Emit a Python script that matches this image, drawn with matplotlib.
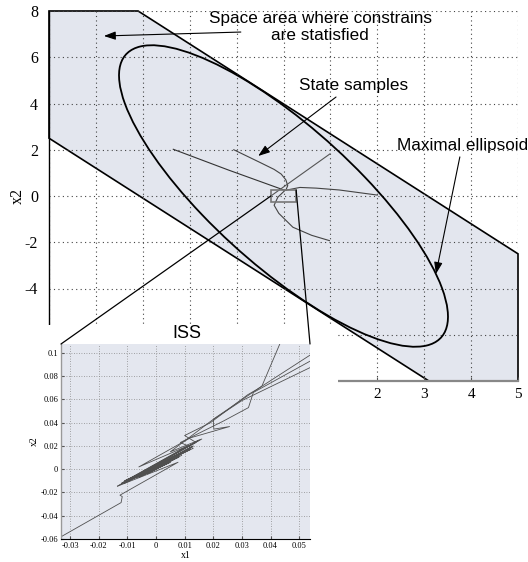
import matplotlib.pyplot as plt
import numpy as np
from matplotlib.patches import Polygon, Ellipse, Rectangle, ConnectionPatch

plt.rcParams['font.family'] = 'serif'
plt.rcParams['font.serif'] = ['Liberation Serif', 'DejaVu Serif']
SANS = ['Liberation Sans', 'DejaVu Sans']

# region where the constraints hold (x1, x2)
region_x = [-5, -3.1, 5, 5, 3.1, -5]
region_y = [8, 8, -2.5, -8, -8, 2.5]

# maximal ellipsoid  x' inv(Q) x <= 1
ellipse_Q = [[12.3, -18.3], [-18.3, 42.5]]

# state samples in the big plot
s1_x = [-2.35, -1.17, 0.02]
s1_y = [2.02, 1.12, 0.25]
s2_x = [-1.06, -0.5, -0.2, -0.05, 0.05, 0.09, 0.05]
s2_y = [2.0, 1.45, 1.15, 0.95, 0.7, 0.45, 0.25]
s3_x = [2.0, 1.19, 0.7, 0.35, 0.05]
s3_y = [0.04, 0.26, 0.34, 0.37, 0.25]
s4_x = [0.98, 0.6, 0.2, -0.1, -0.2, -0.12, 0.02]
s4_y = [-1.93, -1.7, -1.35, -0.75, -0.4, -0.05, 0.22]
s5_x = [0.99, -0.27]
s5_y = [1.82, 0.0]

# zoom box
box_x = [-0.27, 0.27]
box_y = [-0.26, 0.26]

# ISS zoom trajectories
t1_x = [0.0445, 0.0370, 0.0200, 0.0202, 0.0257, 0.0120, -0.0060, 0.0110, -0.0100, 0.0060, -0.0050, 0.0030, 0.0]
t1_y = [0.1150, 0.0715, 0.0430, 0.0345, 0.0367, 0.0270, 0.0020, 0.0200, -0.0090, 0.0110, -0.0045, 0.0040, 0.0]
t2_x = [0.0560, 0.0353, 0.0320, 0.0190, 0.0100, 0.0140, -0.0120, 0.0150, -0.0135, 0.0100, -0.0080, 0.0060, -0.0030, 0.0]
t2_y = [0.1016, 0.0687, 0.0640, 0.0400, 0.0290, 0.0230, -0.0120, 0.0250, -0.0146, 0.0150, -0.0080, 0.0080, -0.0040, 0.0]
t3_x = [0.0560, 0.0340, 0.0323, 0.0236, 0.0085, 0.0130, -0.0110, 0.0120, -0.0090, 0.0090, -0.0060, 0.0040, 0.0]
t3_y = [0.0959, 0.0660, 0.0530, 0.0415, 0.0230, 0.0180, -0.0100, 0.0170, -0.0095, 0.0120, -0.0070, 0.0050, 0.0]
t4_x = [0.0560, 0.0300, 0.0195, 0.0050, 0.0160, -0.0110, 0.0130, -0.0100, 0.0080, -0.0070, 0.0050, -0.0030, 0.0]
t4_y = [0.0900, 0.0590, 0.0420, 0.0150, 0.0260, -0.0110, 0.0200, -0.0105, 0.0105, -0.0075, 0.0060, -0.0035, 0.0]
t5_x = [-0.0360, -0.0122, -0.0118, -0.0126, 0.0077, -0.0135, 0.0155, -0.0110, 0.0120, -0.0090, 0.0080, -0.0060, 0.0040, -0.0020, 0.0]
t5_y = [-0.0620, -0.0287, -0.0235, -0.0223, 0.0060, -0.0146, 0.0255, -0.0120, 0.0180, -0.0090, 0.0110, -0.0060, 0.0060, -0.0025, 0.0]

main_xticks = list(range(-5, 6))
main_xlabels = ['', '', '', '', '', '', '', '2', '3', '4', '5']
main_yticks = list(range(-8, 9, 2))
main_ylabels = ['', '', '-4', '-2', '0', '2', '4', '6', '8']

iss_xticks = [-0.03, -0.02, -0.01, 0, 0.01, 0.02, 0.03, 0.04, 0.05]
iss_xlabels = ['-0.03', '-0.02', '-0.01', '0', '0.01', '0.02', '0.03', '0.04', '0.05']
iss_yticks = [-0.06, -0.04, -0.02, 0, 0.02, 0.04, 0.06, 0.08, 0.1]
iss_ylabels = ['-0.06', '-0.04', '-0.02', '0', '0.02', '0.04', '0.06', '0.08', '0.1']

W, H = 528, 562
fig = plt.figure(figsize=(W / 100, H / 100), dpi=100)

# ---- main plot ----
ax = fig.add_axes([49 / W, 181 / H, 469 / W, 370 / H], zorder=0)
ax.set_xlim(-5, 5)
ax.set_ylim(-8, 8)

ax.add_patch(Polygon(list(zip(region_x, region_y)), closed=True, fc='#e3e6ee',
                     ec='black', lw=1.2, zorder=1, clip_on=False))

Q = np.array(ellipse_Q)
vals, vecs = np.linalg.eigh(Q)
angle = np.degrees(np.arctan2(vecs[1, 1], vecs[0, 1]))
ax.add_patch(Ellipse((0, 0), 2 * np.sqrt(vals[1]), 2 * np.sqrt(vals[0]), angle=angle,
                     fc='none', ec='black', lw=1.3, zorder=3))

for xs, ys, c in [(s1_x, s1_y, '#333333'), (s2_x, s2_y, '#444444'), (s3_x, s3_y, '#444444'),
                  (s4_x, s4_y, '#444444'), (s5_x, s5_y, '#555555')]:
    ax.plot(xs, ys, color=c, lw=0.8, zorder=3)

ax.add_patch(Rectangle((box_x[0], box_y[0]), box_x[1] - box_x[0], box_y[1] - box_y[0],
                       fc='none', ec='#777777', lw=1.2, zorder=3))

ax.grid(True, ls=(0, (1, 3)), color='#444444', lw=0.8)
ax.set_xticks(main_xticks)
ax.set_xticklabels(main_xlabels)
ax.set_yticks(main_yticks)
ax.set_yticklabels(main_ylabels)
ax.tick_params(axis='x', direction='in', length=3, color='#555555', pad=5, labelsize=11)
ax.tick_params(axis='y', length=0, pad=8, labelsize=11.5)
for s in ['top', 'right']:
    ax.spines[s].set_visible(False)
ax.spines['left'].set_linewidth(1.0)
ax.spines['bottom'].set_color('#888888')
ax.spines['bottom'].set_linewidth(1.6)

fig.text(18 / W, 1 - 196 / H, 'x2', rotation=90, ha='center', va='center', fontsize=11.5)

arrow = dict(arrowstyle='-|>,head_length=0.7,head_width=0.25', color='black',
             lw=0.8, shrinkA=0, shrinkB=0, mutation_scale=10)
ax.text(0.78, 7.31, 'Space area where constrains\nare statisfied', ha='center', va='center',
        family=SANS, fontsize=12.3, linespacing=1.1, zorder=5)
ax.annotate('', xy=(-3.83, 6.92), xytext=(-0.91, 7.09), arrowprops=arrow, zorder=5)
ax.text(1.49, 4.76, 'State samples', ha='center', va='center',
        family=SANS, fontsize=12.3, zorder=5)
ax.annotate('', xy=(-0.54, 1.73), xytext=(1.12, 4.28), arrowprops=arrow, zorder=5)
ax.text(3.81, 2.2, 'Maximal ellipsoid', ha='center', va='center',
        family=SANS, fontsize=12.3, zorder=5)
ax.annotate('', xy=(3.25, -3.37), xytext=(3.76, 1.69), arrowprops=arrow, zorder=5)

# white cover for lower left corner
fig.add_artist(Rectangle((0, 0), 338 / W, (H - 325) / H, transform=fig.transFigure,
                         fc='white', ec='none', zorder=1))

# ---- ISS zoom ----
axin = fig.add_axes([61 / W, 23 / H, 249 / W, 195 / H], zorder=2)
axin.set_facecolor('#e4e7ef')
axin.set_xlim(-0.0332, 0.0538)
axin.set_ylim(-0.06, 0.1077)
for xs, ys in [(t1_x, t1_y), (t2_x, t2_y), (t3_x, t3_y), (t4_x, t4_y), (t5_x, t5_y)]:
    axin.plot(xs, ys, color='#505050', lw=0.6)
axin.grid(True, ls=(0, (1, 2)), color='#8a8a8a', lw=0.6)
axin.set_xticks(iss_xticks)
axin.set_xticklabels(iss_xlabels)
axin.set_yticks(iss_yticks)
axin.set_yticklabels(iss_ylabels)
axin.tick_params(direction='in', length=2, pad=2, color='#555555', labelsize=6)
for s in ['top', 'right']:
    axin.spines[s].set_visible(False)
axin.spines['left'].set_color('#999999')
axin.spines['left'].set_linewidth(1.0)
axin.spines['bottom'].set_linewidth(0.8)
axin.set_xlabel('x1', fontsize=7, labelpad=1)
axin.set_ylabel('x2', fontsize=7, labelpad=1)
fig.text(187 / W, 1 - 333 / H, 'ISS', ha='center', va='center', family=SANS, fontsize=13, zorder=3)

for xa, xb in [((box_x[0], 0.0), (0, 1)), ((box_x[1], box_y[1]), (1, 1))]:
    cp = ConnectionPatch(xyA=xa, coordsA=ax.transData, xyB=xb, coordsB=axin.transAxes,
                         color='black', lw=0.9, zorder=3)
    fig.add_artist(cp)

fig.savefig('out.png', dpi=100)
